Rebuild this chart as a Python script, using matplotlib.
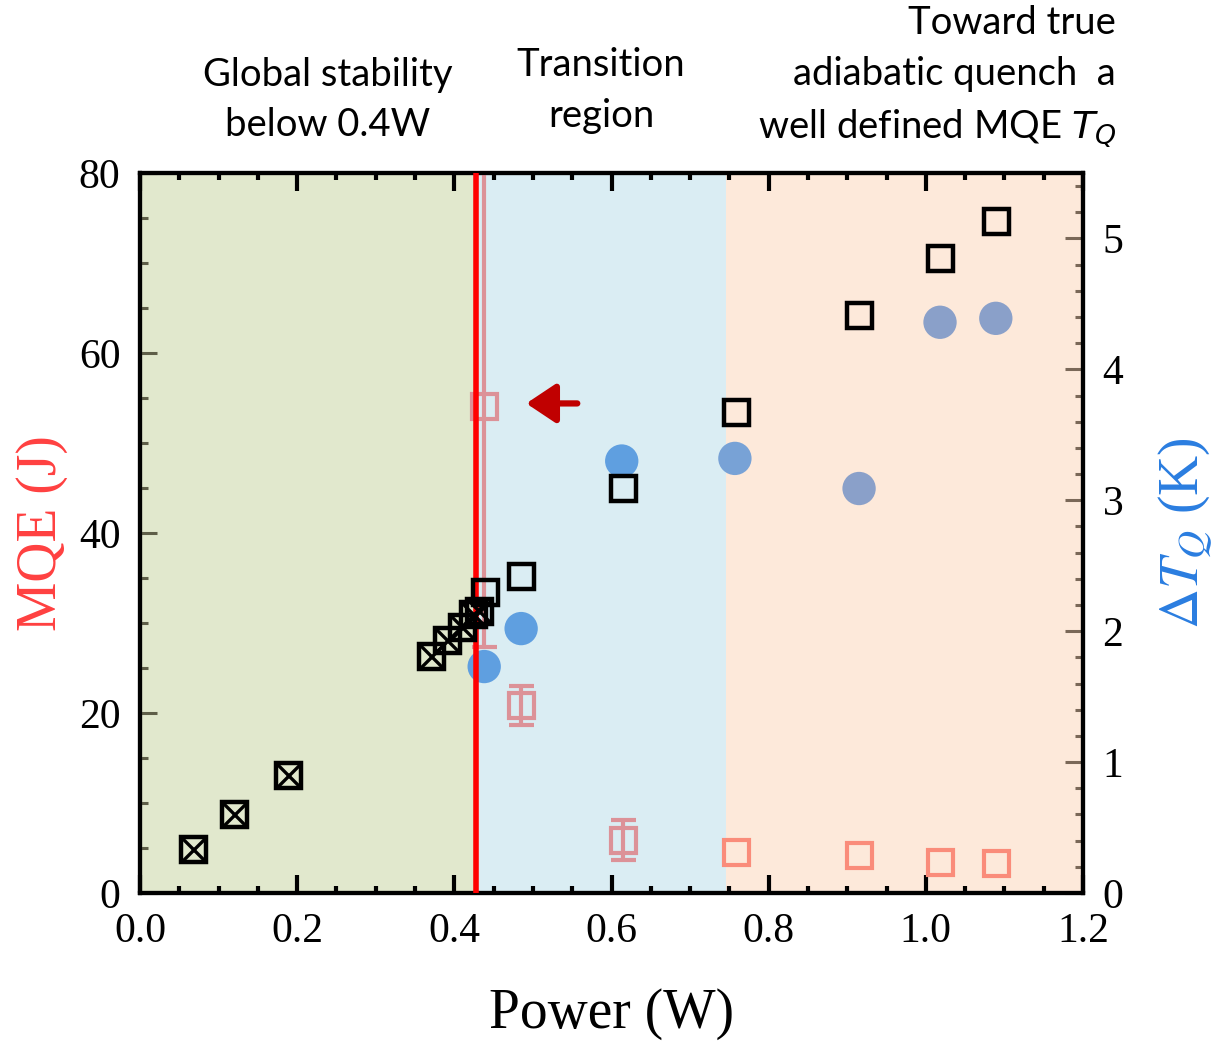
import numpy as np
import matplotlib.pyplot as plt
from matplotlib.ticker import MultipleLocator

plt.rcParams['font.family'] = 'Liberation Serif'
plt.rcParams['mathtext.fontset'] = 'stix'

# crossed squares (MQE, J) - global stability region
cross_p = [0.067, 0.120, 0.188, 0.370, 0.391, 0.410, 0.424, 0.431]
cross_mqe = [4.9, 8.8, 13.1, 26.3, 28.1, 29.6, 31.0, 31.3]

# open black squares (MQE, J)
open_p = [0.439, 0.485, 0.615, 0.758, 0.915, 1.018, 1.089]
open_mqe = [33.4, 35.2, 45.0, 53.4, 64.2, 70.6, 74.7]

# blue circles (Delta T_Q, K)
dt_p = [0.438, 0.485, 0.613, 0.757, 0.915, 1.018, 1.089]
dt_k = [1.73, 2.02, 3.30, 3.32, 3.09, 4.36, 4.39]
dt_col = ['#5f9fe0', '#5f9fe0', '#5f9fe0', '#78a2d6', '#8aa0c9', '#8aa0c9', '#8aa0c9']

# pink squares with error bars (MQE, J)
pink_p = [0.438, 0.485, 0.615]
pink_mqe = [54.1, 20.9, 5.9]
pink_lo = [26.8, 2.2, 2.2]
pink_hi = [30.0, 2.1, 2.2]
salmon_p = [0.758, 0.915, 1.018, 1.089]
salmon_mqe = [4.6, 4.2, 3.4, 3.3]

regions = [(0.0, 0.43, '#e1e8cd'), (0.43, 0.746, '#daedf3'), (0.746, 1.2, '#fde9da')]
p_line = 0.4276

fig = plt.figure(figsize=(12.15, 10.43), dpi=100)
ax = fig.add_axes([0.1152, 0.1438, 0.7762, 0.6903])
ax2 = ax.twinx()
ax.set_zorder(ax2.get_zorder() + 1)
ax.patch.set_visible(False)

for x0, x1, c in regions:
    ax2.axvspan(x0, x1, color=c, lw=0, zorder=0)

ax2.scatter(dt_p, dt_k, s=24**2, c=dt_col, edgecolors='none', zorder=2)

ax.errorbar(pink_p, pink_mqe, yerr=[pink_lo, pink_hi], fmt='s', ms=18, mfc='none',
            mec='#dc9298', mew=3, ecolor='#dc9298', elinewidth=3, capsize=9,
            capthick=3.5, zorder=2)
ax.plot(salmon_p, salmon_mqe, 's', ms=18, mfc='none', mec='#fa8c7a', mew=3, zorder=2)

ax.axvline(p_line, color='#ff0000', lw=4, zorder=3)

ax.plot(cross_p, cross_mqe, 's', ms=18, mfc='none', mec='black', mew=3.2, zorder=4)
ax.plot(cross_p, cross_mqe, 'x', ms=18, mec='black', mew=2.4, zorder=4)
ax.plot(open_p, open_mqe, 's', ms=18, mfc='none', mec='black', mew=3.2, zorder=4)

ax.annotate('', xy=(0.488, 54.4), xytext=(0.56, 54.4),
            arrowprops=dict(arrowstyle='-|>,head_length=0.6,head_width=0.4',
                            color='#c00000', lw=4.5, mutation_scale=30), zorder=5)

ax.set_xlim(0, 1.2)
ax.set_ylim(0, 80)
ax2.set_ylim(0, 5.5)

ax.xaxis.set_major_locator(MultipleLocator(0.2))
ax.xaxis.set_minor_locator(MultipleLocator(0.05))
ax.yaxis.set_major_locator(MultipleLocator(20))
ax.yaxis.set_minor_locator(MultipleLocator(5))
ax2.yaxis.set_major_locator(MultipleLocator(1))
ax2.yaxis.set_minor_locator(MultipleLocator(0.2))

ax.tick_params(axis='x', which='both', direction='in', top=True, bottom=True,
               color='black', labelsize=30, pad=14)
ax.tick_params(axis='x', which='major', length=13, width=3)
ax.tick_params(axis='x', which='minor', length=5, width=3)
ax.tick_params(axis='y', which='both', direction='in', left=True, right=False,
               color='#5e5e48', labelsize=30, pad=14)
ax.tick_params(axis='y', which='major', length=12, width=2.2)
ax.tick_params(axis='y', which='minor', length=6, width=2.2)
ax2.tick_params(axis='y', which='both', direction='in', color='#7a6858',
                labelsize=30, pad=14)
ax2.tick_params(axis='y', which='major', length=13, width=2.2)
ax2.tick_params(axis='y', which='minor', length=6, width=2.2)
ax.set_xticks([0.0, 0.2, 0.4, 0.6, 0.8, 1.0, 1.2])
ax.set_xticklabels(['0.0', '0.2', '0.4', '0.6', '0.8', '1.0', '1.2'])

for a in (ax, ax2):
    for s in a.spines.values():
        s.set_linewidth(3)
        s.set_color('black')

ax.set_xlabel('Power (W)', fontsize=40, labelpad=27)
ax.set_ylabel('MQE (J)', fontsize=40, color='#ff4040', labelpad=8)
ax2.set_ylabel(r'$\Delta T_Q$ (K)', fontsize=40, color='#2a7de0', labelpad=24)

sans = 'Lato'
fig.text(0.27, 0.904, 'Global stability\nbelow 0.4W', ha='center', va='center',
         fontsize=27.5, family=sans, linespacing=1.5)
fig.text(0.4946, 0.913, 'Transition\nregion', ha='center', va='center',
         fontsize=27.5, family=sans, linespacing=1.5)
fig.text(0.9185, 0.926, 'Toward true\nadiabatic quench  a\nwell defined MQE $T_Q$',
         ha='right', va='center', ma='right', fontsize=27.5, family=sans,
         linespacing=1.5, math_fontfamily='dejavusans')

fig.savefig('out.png', dpi=100)
